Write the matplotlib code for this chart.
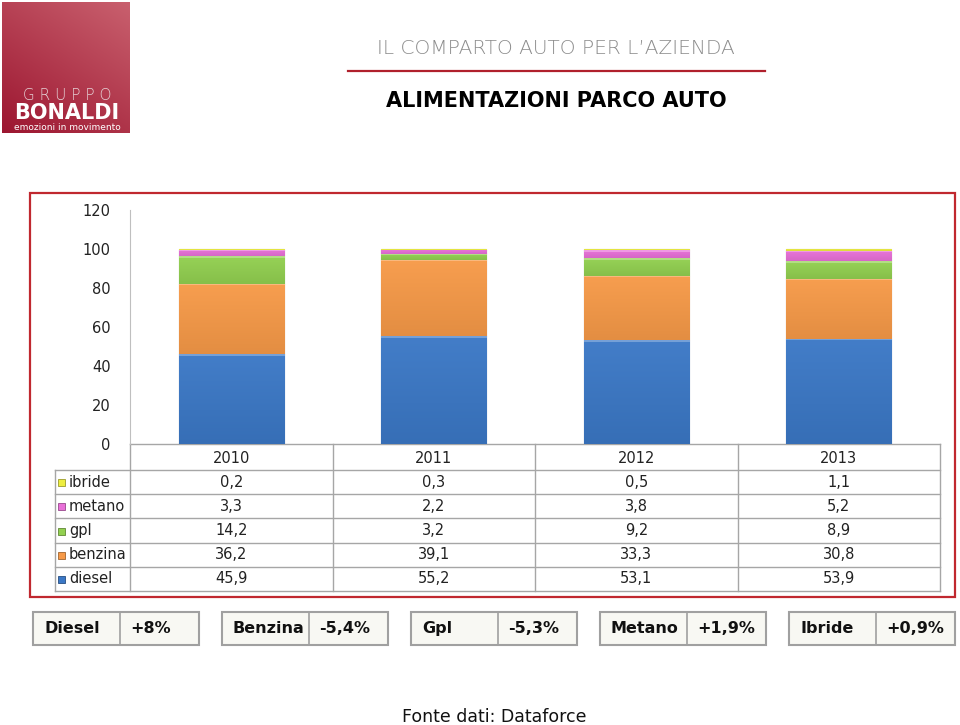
import numpy as np
import matplotlib.pyplot as plt
from matplotlib.patches import Rectangle
from matplotlib.colors import to_rgb

# data
years = ['2010', '2011', '2012', '2013']
series = ['diesel', 'benzina', 'gpl', 'metano', 'ibride']
diesel = [45.9, 55.2, 53.1, 53.9]
benzina = [36.2, 39.1, 33.3, 30.8]
gpl = [14.2, 3.2, 9.2, 8.9]
metano = [3.3, 2.2, 3.8, 5.2]
ibride = [0.2, 0.3, 0.5, 1.1]
colors = ['#3B78C6', '#F79A48', '#92D050', '#E870D8', '#EEEE40']
yticks = [0, 20, 40, 60, 80, 100, 120]
change_labels = ['Diesel', 'Benzina', 'Gpl', 'Metano', 'Ibride']
changes = ['+8%', '-5,4%', '-5,3%', '+1,9%', '+0,9%']

values = [diesel, benzina, gpl, metano, ibride]

plt.rcParams['font.family'] = ['DejaVu Sans']
W, H = 960, 725
fig = plt.figure(figsize=(9.6, 7.25), dpi=100)

# overlay in pixel coordinates for frame, table, boxes, header
ov = fig.add_axes([0, 0, 1, 1], zorder=0)
ov.set_xlim(0, W)
ov.set_ylim(H, 0)
ov.axis('off')


def shade(c, f):
    r = np.array(to_rgb(c))
    if f > 0:
        return r + (1 - r) * f
    return r * (1 + f)


# logo
n = 120
gy, gx = np.mgrid[0:n, 0:n] / (n - 1)
t = np.clip(0.6 * (1 - gy) + 0.4 * gx, 0, 1)[..., None]
dark, light = np.array(to_rgb('#9C1630')), np.array(to_rgb('#C9606E'))
ov.imshow(dark + (light - dark) * t, extent=(2, 130, 133, 2), aspect='auto', zorder=1)
ov.text(67, 95, 'G R U P P O', color='#E6D2D6', fontsize=11, ha='center', va='center',
        fontweight='light', zorder=2)
ov.text(67, 113, 'BONALDI', color='white', fontsize=15, ha='center', va='center',
        fontweight='bold', zorder=2)
ov.text(67, 127.5, 'emozioni in movimento', color='white', fontsize=6.5, ha='center',
        va='center', zorder=2)

# header
ov.text(556, 48, 'IL COMPARTO AUTO PER L\u2019AZIENDA', color='#8C8C8C', fontsize=14.5,
        ha='center', va='center', fontweight='light')
ov.plot([348, 765], [71, 71], color='#B0202C', lw=1.6)
ov.text(556, 101, 'ALIMENTAZIONI PARCO AUTO', color='black', fontsize=15,
        ha='center', va='center', fontweight='bold',
        family=['Liberation Sans Narrow', 'DejaVu Sans'])

# chart frame
ov.add_patch(Rectangle((30, 193), 925, 404, fill=False, edgecolor='#C0282F', lw=1.6))

# bar chart
x0, x1, y0, y1 = 130, 940, 444, 210
ax = fig.add_axes([x0 / W, 1 - y0 / H, (x1 - x0) / W, (y0 - y1) / H], zorder=1)
ax.patch.set_alpha(0)
x = np.arange(len(years))
bottom = np.zeros(len(years))
for vals, c in zip(values, colors):
    bars = ax.bar(x, vals, 0.52, bottom=bottom, color=c,
                  edgecolor=shade(c, -0.3), linewidth=0.8, zorder=2)
    for b in bars:
        bx, by = b.get_x(), b.get_y()
        bw, bh = b.get_width(), b.get_height()
        grad = np.linspace(0, 1, 200)[:, None, None]
        band = min(0.9 / bh, 0.3)
        top_c, mid_c, bot_c = shade(c, 0.3), shade(c, 0.04), shade(c, -0.08)
        img = np.where(grad < band, top_c, mid_c + (bot_c - mid_c) * grad)
        img = np.repeat(img, 2, axis=1)
        im = ax.imshow(img, extent=(bx, bx + bw, by, by + bh), aspect='auto', zorder=2.5,
                       interpolation='nearest')
        im.set_clip_path(b)
    bottom += np.array(vals)
ax.set_xlim(-0.5, len(years) - 0.5)
ax.set_ylim(0, 120)
ax.set_yticks(yticks)
ax.set_xticks([])
ax.tick_params(axis='y', length=0, pad=14, labelsize=10.5, labelcolor='#222222')
for s in ['top', 'right', 'bottom']:
    ax.spines[s].set_visible(False)
ax.spines['left'].set_color('#BFBFBF')

# data table
grid_c = '#A6A6A6'
col_edges = np.linspace(x0, x1, len(years) + 1)
row_edges = np.linspace(470, 591, len(series) + 1)
lab_x = 55
ov.plot([x0, x1], [y0, y0], color=grid_c, lw=1)
for ry in row_edges:
    ov.plot([lab_x, x1], [ry, ry], color=grid_c, lw=1)
for cx in col_edges:
    ov.plot([cx, cx], [y0, row_edges[-1]], color=grid_c, lw=1)
ov.plot([lab_x, lab_x], [row_edges[0], row_edges[-1]], color=grid_c, lw=1)
for i, yr in enumerate(years):
    ov.text((col_edges[i] + col_edges[i + 1]) / 2, (y0 + row_edges[0]) / 2 + 1, yr,
            ha='center', va='center', fontsize=10.5, color='#222222')
order = list(range(len(series)))[::-1]
for r, si in enumerate(order):
    cy = (row_edges[r] + row_edges[r + 1]) / 2
    ov.add_patch(Rectangle((58, cy - 3), 7, 7, facecolor=colors[si],
                           edgecolor=shade(colors[si], -0.35), lw=0.6))
    ov.text(69, cy, series[si], ha='left', va='center', fontsize=10.5, color='#222222')
    for i, v in enumerate(values[si]):
        ov.text((col_edges[i] + col_edges[i + 1]) / 2, cy, f'{v:.1f}'.replace('.', ','),
                ha='center', va='center', fontsize=10.5, color='#222222')

# variation boxes
box_x = [33, 222, 411, 600, 789]
box_w, split = 166, 87
for bxp, lab, ch in zip(box_x, change_labels, changes):
    ov.add_patch(Rectangle((bxp, 612), box_w, 33, facecolor='#F8F8F3',
                           edgecolor='#A0A0A0', lw=1.5))
    ov.plot([bxp + split, bxp + split], [612, 645], color='#A0A0A0', lw=1.2)
    ov.text(bxp + 11, 628.5, lab, ha='left', va='center', fontsize=11.5,
            fontweight='bold', color='#111111')
    ov.text(bxp + split + 10, 628.5, ch, ha='left', va='center', fontsize=11.5,
            fontweight='bold', color='#111111')

ov.text(494, 717, 'Fonte dati: Dataforce', ha='center', va='center', fontsize=12.5,
        color='#111111')

fig.savefig('out.png', dpi=100)
